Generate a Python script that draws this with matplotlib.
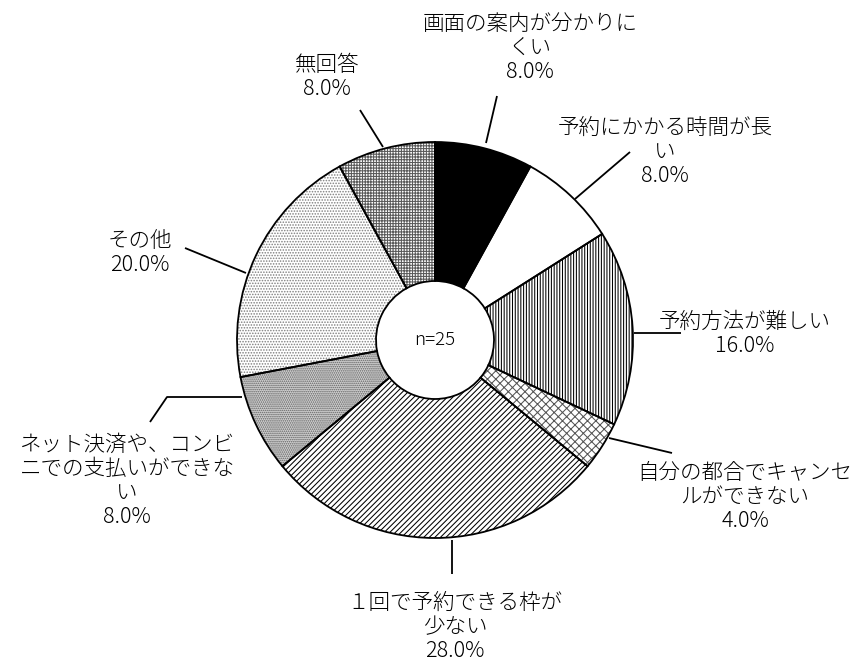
import matplotlib
matplotlib.use("Agg")
import matplotlib.pyplot as plt

plt.rcParams['font.family'] = ['Noto Sans CJK JP', 'DejaVu Sans']
plt.rcParams['hatch.linewidth'] = 0.75

# ---- data ----
categories = [
    "画面の案内が分かりに\nくい",
    "予約にかかる時間が長\nい",
    "予約方法が難しい",
    "自分の都合でキャンセ\nルができない",
    "１回で予約できる枠が\n少ない",
    "ネット決済や、コンビ\nニでの支払いができな\nい",
    "その他",
    "無回答",
]
values = [8.0, 8.0, 16.0, 4.0, 28.0, 8.0, 20.0, 8.0]
n_label = "n=25"

# ---- styles ----
faces = ['black', 'white', 'white', 'white', 'white', '#d0d0d0', 'white', 'white']
hatches = [None, None, '||||||', 'xxxx', '//////', '........', '......', '++++++']
hatch_cols = ['black', 'black', 'black', '#555555', 'black', '#606060', '#808080', '#5a5a5a']

# label layout (pixel coords, y downward)
label_pos = [(530, 48), (665, 152), (745, 334), (745, 497),
             (455, 627), (127, 481), (140, 253), (327, 77)]
leaders = [
    [(486, 143), (497, 96)],
    [(575, 199), (630, 152)],
    [(634, 333), (681, 333)],
    [(609, 438), (672, 453)],
    [(452, 540), (452, 574)],
    [(242, 397), (167, 397), (150, 422)],
    [(246, 273), (185, 248)],
    [(383, 147), (360, 110)],
]

W, H = 864, 661
fig = plt.figure(figsize=(W / 100, H / 100), dpi=100)
ax = fig.add_axes([0, 0, 1, 1])

cx, cy, R, r_in = 435, 340, 198, 59

wedges, _ = ax.pie(values, startangle=-90, counterclock=True,
                   center=(cx, cy), radius=R,
                   wedgeprops=dict(width=R - r_in, linewidth=0))
for w, fc, h, hc in zip(wedges, faces, hatches, hatch_cols):
    w.set_facecolor(fc)
    w.set_edgecolor(hc)
    w.set_linewidth(0)
    if h:
        w.set_hatch(h)

outl, _ = ax.pie(values, startangle=-90, counterclock=True,
                 center=(cx, cy), radius=R,
                 wedgeprops=dict(width=R - r_in, facecolor='none',
                                 edgecolor='black', linewidth=1.3))

ax.set_xlim(0, W)
ax.set_ylim(H, 0)
ax.set_aspect('auto')
ax.axis('off')

for cat, v, (tx, ty), pts in zip(categories, values, label_pos, leaders):
    ax.text(tx, ty, f"{cat}\n{v:.1f}%", ha='center', va='center',
            fontsize=15.5, linespacing=1.12, color='black', fontweight='light')
    xs = [p[0] for p in pts]
    ys = [p[1] for p in pts]
    ax.plot(xs, ys, color='black', linewidth=1.3, solid_capstyle='butt')

ax.text(cx, cy, n_label, ha='center', va='center', fontsize=13.5,
        color='black', fontweight='light')

fig.savefig("out.png", dpi=100, facecolor='white')
